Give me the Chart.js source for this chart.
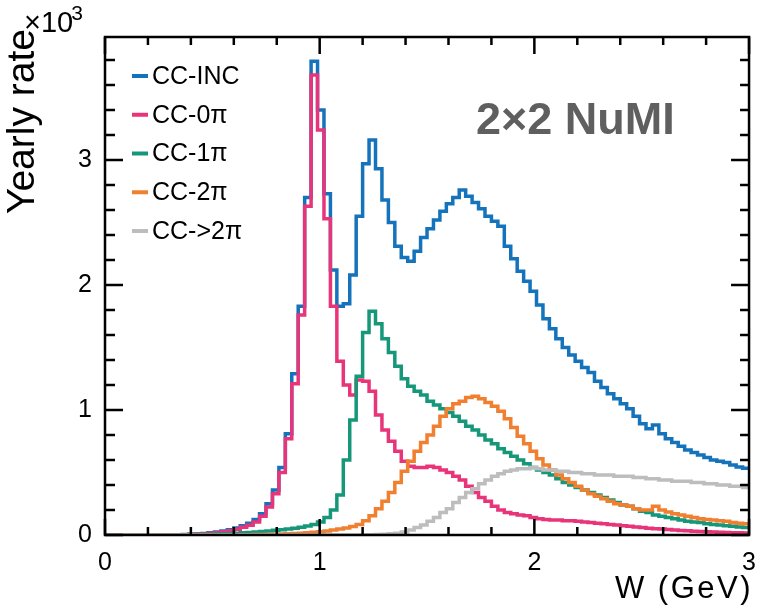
<!DOCTYPE html>
<html><head><meta charset="utf-8">
<script src="https://cdn.jsdelivr.net/npm/chart.js@4.4.1/dist/chart.umd.min.js"></script>
<style>html,body{margin:0;padding:0;background:#fff}#wrap{width:761px;height:608px}</style>
</head><body><div id="wrap"><canvas id="c" width="761" height="608"></canvas></div>
<script>
// Histogram binning in W (GeV)
const binWidth = 0.03;
const wMin = 0;
const wMax = 3;
// Yearly rate per bin, in units of 10^3
const ccInc = [
0,0,0,0,0,0,0,0,0,0,
0,0,0.004,0.006,0.009,0.013,0.018,0.024,0.033,0.043,
0.057,0.075,0.095,0.125,0.17,0.25,0.36,0.54,0.81,1.29,
1.83,2.7,3.79,3.4,2.73,2.12,1.83,1.85,2.08,2.55,
2.97,3.16,2.93,2.68,2.5,2.31,2.22,2.19,2.27,2.38,
2.45,2.52,2.59,2.65,2.7,2.76,2.71,2.66,2.61,2.55,
2.51,2.47,2.31,2.21,2.11,2.03,1.95,1.84,1.73,1.65,
1.57,1.5,1.44,1.39,1.34,1.3,1.23,1.18,1.13,1.09,
1.05,1.01,0.95,0.89,0.85,0.88,0.81,0.77,0.74,0.71,
0.68,0.66,0.64,0.62,0.6,0.59,0.58,0.56,0.545,0.535];
const cc0pi = [
0,0,0,0,0,0,0,0,0,0,
0,0,0.003,0.005,0.007,0.01,0.014,0.019,0.026,0.035,
0.046,0.062,0.078,0.105,0.15,0.225,0.33,0.5,0.77,1.21,
1.76,2.63,3.68,3.24,2.53,1.83,1.39,1.2,1.12,1.24,
1.23,1.15,0.96,0.84,0.75,0.67,0.59,0.55,0.54,0.54,
0.55,0.54,0.52,0.5,0.47,0.44,0.39,0.34,0.3,0.27,
0.23,0.2,0.18,0.17,0.16,0.155,0.14,0.13,0.125,0.12,
0.12,0.115,0.115,0.11,0.105,0.1,0.095,0.09,0.085,0.08,
0.075,0.07,0.065,0.06,0.055,0.05,0.048,0.045,0.04,0.037,
0.034,0.03,0.028,0.026,0.024,0.022,0.02,0.019,0.018,0.017];
const cc1pi = [
0,0,0,0,0,0,0,0,0,0,
0.001,0.002,0.003,0.004,0.005,0.006,0.007,0.009,0.011,0.013,
0.015,0.018,0.021,0.025,0.029,0.033,0.038,0.043,0.048,0.055,
0.063,0.072,0.085,0.105,0.14,0.2,0.32,0.6,0.92,1.27,
1.62,1.79,1.69,1.57,1.46,1.35,1.25,1.19,1.15,1.12,
1.07,1.04,1.01,0.98,0.95,0.91,0.87,0.84,0.8,0.76,
0.73,0.69,0.66,0.63,0.6,0.57,0.54,0.52,0.5,0.48,
0.45,0.42,0.4,0.38,0.36,0.34,0.32,0.3,0.28,0.26,
0.24,0.23,0.21,0.19,0.18,0.16,0.15,0.14,0.13,0.12,
0.11,0.105,0.1,0.09,0.085,0.08,0.075,0.07,0.065,0.06];
const cc2pi = [
0,0,0,0,0,0,0,0,0,0,
0,0,0,0,0,0,0,0,0,0,
0.001,0.002,0.003,0.004,0.005,0.006,0.007,0.008,0.01,0.012,
0.015,0.018,0.022,0.027,0.033,0.04,0.048,0.057,0.068,0.085,
0.115,0.155,0.21,0.27,0.34,0.42,0.51,0.59,0.67,0.74,
0.8,0.87,0.95,1.01,1.05,1.07,1.1,1.11,1.09,1.06,
1.03,0.99,0.93,0.86,0.79,0.73,0.67,0.61,0.56,0.52,
0.48,0.45,0.42,0.39,0.36,0.33,0.31,0.29,0.27,0.25,
0.24,0.23,0.21,0.2,0.2,0.23,0.2,0.185,0.17,0.16,
0.15,0.14,0.13,0.125,0.12,0.115,0.11,0.1,0.095,0.09];
const ccGt2pi = [
0,0,0,0,0,0,0,0,0,0,
0,0,0,0,0,0,0,0,0,0,
0,0,0,0,0,0,0,0,0,0,
0,0,0,0,0,0,0,0,0,0,
0.002,0.003,0.005,0.007,0.01,0.015,0.025,0.04,0.06,0.08,
0.11,0.14,0.18,0.21,0.26,0.3,0.34,0.37,0.41,0.44,
0.47,0.49,0.51,0.52,0.53,0.53,0.54,0.53,0.52,0.52,
0.51,0.51,0.5,0.5,0.49,0.49,0.48,0.48,0.48,0.47,
0.47,0.47,0.46,0.46,0.45,0.45,0.44,0.44,0.43,0.43,
0.43,0.42,0.42,0.41,0.41,0.4,0.4,0.39,0.39,0.38];

const seriesLabels = ['CC-INC', 'CC-0\u03c0', 'CC-1\u03c0', 'CC-2\u03c0', 'CC->2\u03c0'];
const seriesValues = [ccInc, cc0pi, cc1pi, cc2pi, ccGt2pi];
const seriesColors = ['#1473bb', '#e8357a', '#16977a', '#f07f2f', '#bdbdbd'];

const xMajorTicks = [0, 1, 2, 3];
const yMajorTicks = [0, 1, 2, 3];
const xMinorStep = 0.2;
const yMinorStep = 0.2;
const yMax = 3.984;

// bin i holds vals[i] from its low edge up to the next edge
function histPoints(vals) {
  const pts = vals.map((v, i) => ({ x: wMin + i * binWidth, y: v }));
  pts.push({ x: wMax, y: vals[vals.length - 1] });
  return pts;
}

const datasets = seriesValues.map((vals, k) => ({
  label: seriesLabels[k],
  data: histPoints(vals),
  borderColor: seriesColors[k],
  backgroundColor: seriesColors[k],
  borderWidth: 3.5,
  pointRadius: 0,
  stepped: 'before',
  fill: false,
  order: 5 - k,
  borderJoinStyle: 'miter',
  borderCapStyle: 'butt'
}));

const FONT = "'Liberation Sans', Arial, Helvetica, sans-serif";

const decor = {
  id: 'decor',
  afterDatasetsDraw(chart) {
    const { ctx, chartArea: a, scales } = chart;
    const xs = scales.x, ys = scales.y;
    ctx.save();
    ctx.strokeStyle = '#000';
    ctx.lineWidth = 2.5;
    ctx.lineCap = 'butt';
    ctx.strokeRect(a.left, a.top, a.right - a.left, a.bottom - a.top);
    ctx.beginPath();
    for (let v = wMin; v <= wMax + 1e-9; v += xMinorStep) {
      const vv = Math.round(v * 1000) / 1000;
      const major = xMajorTicks.some(t => Math.abs(t - vv) < 1e-6);
      const px = xs.getPixelForValue(vv);
      const lb = major ? 16 : 8, lt = major ? 17 : 8;
      ctx.moveTo(px, a.bottom); ctx.lineTo(px, a.bottom - lb);
      ctx.moveTo(px, a.top); ctx.lineTo(px, a.top + lt);
    }
    for (let v = 0; v <= yMax + 1e-9; v += yMinorStep) {
      const vv = Math.round(v * 1000) / 1000;
      const major = yMajorTicks.some(t => Math.abs(t - vv) < 1e-6);
      const py = ys.getPixelForValue(vv);
      const ll = major ? 18 : 10, lr = major ? 18 : 9;
      ctx.moveTo(a.left, py); ctx.lineTo(a.left + ll, py);
      ctx.moveTo(a.right, py); ctx.lineTo(a.right - lr, py);
    }
    ctx.stroke();
    ctx.restore();
  },
  afterDraw(chart) {
    const { ctx } = chart;
    ctx.save();
    chart.data.datasets.forEach((ds, i) => {
      const cy = 76 + i * 38.75;
      ctx.strokeStyle = ds.borderColor;
      ctx.lineWidth = 4;
      ctx.beginPath(); ctx.moveTo(132, cy); ctx.lineTo(148, cy); ctx.stroke();
      ctx.fillStyle = '#000';
      ctx.font = '25px ' + FONT;
      ctx.textAlign = 'left';
      ctx.textBaseline = 'middle';
      ctx.fillText(ds.label, 152, cy + 1);
    });
    ctx.fillStyle = '#5f5f5f';
    ctx.font = 'bold 45px ' + FONT;
    ctx.textAlign = 'left';
    ctx.textBaseline = 'alphabetic';
    ctx.fillText('2\u00d72 NuMI', 476, 134);
    ctx.fillStyle = '#000';
    ctx.save();
    ctx.translate(34, 214);
    ctx.rotate(-Math.PI / 2);
    ctx.font = '39px ' + FONT;
    ctx.textAlign = 'left';
    ctx.textBaseline = 'alphabetic';
    ctx.fillText('Yearly rate', 0, 0);
    ctx.restore();
    ctx.font = '29px ' + FONT;
    ctx.textAlign = 'left';
    ctx.fillText('\u00d710', 24, 32);
    const w = ctx.measureText('\u00d710').width;
    ctx.font = '21px ' + FONT;
    ctx.fillText('3', 22 + w, 20);
    ctx.font = '31px ' + FONT;
    ctx.textAlign = 'right';
    ctx.letterSpacing = '2.5px';
    ctx.fillText('W (GeV)', 753, 598);
    ctx.restore();
  }
};

new Chart(document.getElementById('c'), {
  type: 'line',
  data: { datasets },
  plugins: [decor],
  options: {
    responsive: false,
    animation: false,
    devicePixelRatio: 1,
    layout: { padding: { top: 37, right: 9, left: 0, bottom: 0 } },
    plugins: { legend: { display: false }, tooltip: { enabled: false } },
    scales: {
      x: {
        type: 'linear', min: wMin, max: wMax,
        grid: { display: false }, border: { display: false },
        afterBuildTicks: s => { s.ticks = xMajorTicks.map(v => ({ value: v })); },
        afterFit: s => { s.height = 73; },
        ticks: { autoSkip: false, maxRotation: 0, padding: 5, color: '#000',
                 font: { family: FONT, size: 25 }, callback: v => String(v) }
      },
      y: {
        type: 'linear', min: 0, max: yMax,
        grid: { display: false }, border: { display: false },
        afterBuildTicks: s => { s.ticks = yMajorTicks.map(v => ({ value: v })); },
        afterFit: s => { s.width = 105; },
        ticks: { autoSkip: false, padding: 5, color: '#000',
                 font: { family: FONT, size: 25 }, callback: v => String(v) }
      }
    }
  }
});
</script></body></html>
